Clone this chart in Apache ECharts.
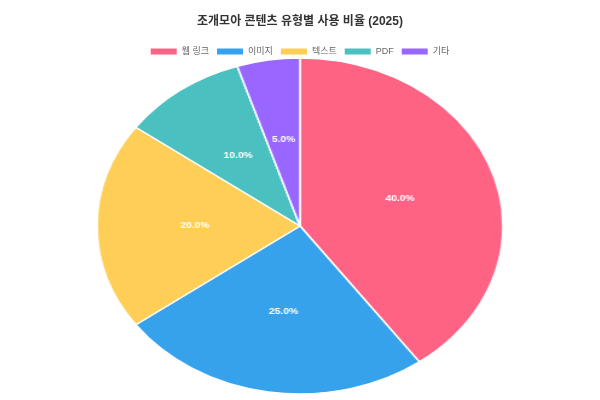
<!DOCTYPE html>
<html><head><meta charset="utf-8">
<script src="https://cdn.jsdelivr.net/npm/echarts@6/dist/echarts.min.js"></script>
<style>
html,body{margin:0;padding:0;background:#fff;}
#wrap{position:relative;width:600px;height:400px;overflow:hidden;}
#a,#b{position:absolute;left:0;top:0;width:600px;height:400px;}
#b{transform-origin:300px 226px;transform:scaleX(1.2083);}
</style></head>
<body><div id="wrap"><div id="a"></div><div id="b"></div></div>
<script>
const categories = ['웹 링크', '이미지', '텍스트', 'PDF', '기타'];
const values = [40, 25, 20, 10, 5];
const colors = ['#FF6384', '#36A2EB', '#FFCE56', '#4BC0C0', '#9966FF'];
const titleText = '조개모아 콘텐츠 유형별 사용 비율 (2025)';

const total = values.reduce((s, v) => s + v, 0);
const pieData = categories.map((c, i) => ({ name: c, value: values[i], itemStyle: { color: colors[i] } }));

const a = echarts.init(document.getElementById('a'), null, { renderer: 'canvas' });
a.setOption({
  animation: false,
  title: { text: titleText, left: 'center', top: 11, textStyle: { fontFamily: '"Liberation Sans", "Noto Sans CJK KR", sans-serif', fontSize: 12, fontWeight: 'bold', color: '#333' } },
  legend: {
    top: 42, left: 'center', itemWidth: 26, itemHeight: 6, itemGap: 8, icon: 'rect',
    textStyle: { fontFamily: '"Liberation Sans", "Noto Sans CJK KR", sans-serif', fontSize: 9, color: '#666' },
    data: categories
  },
  series: [{ type: 'pie', radius: [0, 0], center: [300, 226], silent: true, label: { show: false }, data: pieData }]
});

const b = echarts.init(document.getElementById('b'), null, { renderer: 'canvas' });
b.setOption({
  animation: false,
  series: [{
    type: 'pie', radius: [0, 168], center: [300, 226], startAngle: 90, clockwise: true,
    itemStyle: { borderColor: '#fff', borderWidth: 1.5 },
    label: {
      show: true, position: 'inside', color: '#fff', fontWeight: 'bold', fontSize: 8.5,
      fontFamily: '"Liberation Sans", Arial, sans-serif',
      formatter: p => (p.value / total * 100).toFixed(1) + '%'
    },
    labelLine: { show: false },
    emphasis: { disabled: true },
    data: pieData
  }]
});
</script></body></html>
